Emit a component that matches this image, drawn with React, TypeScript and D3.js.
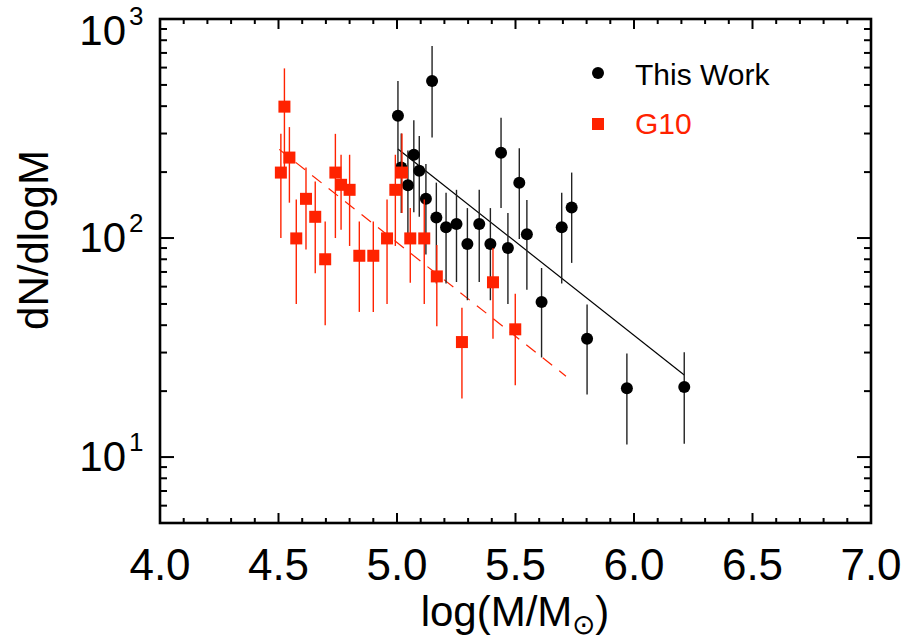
import React from "react";
import * as d3 from "d3";

// ---- Data ----
const thisWorkX = [5.004, 5.018, 5.046, 5.071, 5.094, 5.122, 5.148, 5.166, 5.207, 5.251, 5.297, 5.347, 5.394, 5.439, 5.468, 5.516, 5.548, 5.61, 5.695, 5.737, 5.802, 5.97, 6.212];
const thisWorkY = [362, 210, 174, 240, 203, 151, 521, 124, 112, 116, 94, 116, 94, 245, 90, 179, 104, 51, 112, 138, 34.7, 20.6, 20.9];
const thisWorkHi = [521, 300, 251, 345, 292, 218, 752, 179, 161, 166, 137, 166, 137, 354, 130, 257, 149, 73, 161, 199, 49.7, 29.7, 30.1];
const thisWorkLo = [203, 130, 100, 131, 125, 84, 288, 62, 62, 63, 52, 63, 52, 137, 50, 99, 58, 28.5, 62, 77, 19.3, 11.4, 11.5];

const g10X = [4.51, 4.525, 4.546, 4.575, 4.616, 4.655, 4.697, 4.74, 4.764, 4.8, 4.841, 4.9, 4.958, 4.993, 5.021, 5.056, 5.115, 5.168, 5.274, 5.405, 5.499];
const g10Y = [199, 398, 233, 99.6, 151, 125, 80, 199, 175, 166, 83, 83, 99.6, 166, 199, 99.6, 99.6, 66.8, 33.5, 62.8, 38.3];
const g10Hi = [299, 595, 321, 150, 210, 181, 119, 299, 240, 240, 119, 119, 150, 240, 300, 137, 150, 93, 48, 90, 55.6];
const g10Lo = [100, 200, 145, 50, 88.6, 69, 40, 100, 109, 92, 46, 46, 50, 92, 130, 62.5, 50, 39.6, 18.5, 34.7, 21.3];

const fitThisWorkX = [5.004, 6.212];
const fitThisWorkY = [255, 23.7];
const fitG10X = [4.503, 5.713];
const fitG10Y = [254, 23.4];

const xTickValues = [4.0, 4.5, 5.0, 5.5, 6.0, 6.5, 7.0];
const yDecades = [1, 2, 3];
const legendLabels = ["This Work", "G10"];

const W = 907;
const H = 640;
const L = 160, R = 871, T = 19, B = 523;
const RED = "#ff2200";
const FONT = "'Liberation Sans', Arial, Helvetica, sans-serif";

export default function App() {
  const x = d3.scaleLinear().domain([4, 7]).range([L, R]);
  const y = d3.scaleLog().domain([5, 1000]).range([B, T]);

  const xMinor = d3.range(40, 71).map((v) => v / 10);
  const yMinor: number[] = [];
  [1, 10, 100].forEach((dec) => {
    for (let m = 1; m <= 9; m++) {
      const v = dec * m;
      if (v >= 5 && v <= 1000) yMinor.push(v);
    }
  });

  const line = d3.line<[number, number]>().x((d) => x(d[0])).y((d) => y(d[1]));
  const fitA: [number, number][] = fitThisWorkX.map((v, i) => [v, fitThisWorkY[i]]);
  const fitB: [number, number][] = fitG10X.map((v, i) => [v, fitG10Y[i]]);

  return (
    <svg width={W} height={H} style={{ position: "absolute", left: 0, top: 0, background: "#fff" }} fontFamily={FONT}>
      <rect x={0} y={0} width={W} height={H} fill="#fff" />

      {/* fit lines */}
      <path d={line(fitA) || ""} stroke="#000" strokeWidth={1.2} fill="none" />
      <path d={line(fitB) || ""} stroke={RED} strokeWidth={1.2} fill="none" strokeDasharray="12,9" />

      {/* This Work */}
      {thisWorkX.map((v, i) => (
        <line key={"te" + i} x1={x(v)} x2={x(v)} y1={y(thisWorkLo[i])} y2={y(thisWorkHi[i])} stroke="#222" strokeWidth={1.4} />
      ))}
      {thisWorkX.map((v, i) => (
        <circle key={"tp" + i} cx={x(v)} cy={y(thisWorkY[i])} r={6} fill="#000" />
      ))}

      {/* G10 */}
      {g10X.map((v, i) => (
        <line key={"ge" + i} x1={x(v)} x2={x(v)} y1={y(g10Lo[i])} y2={y(g10Hi[i])} stroke={RED} strokeWidth={1.4} />
      ))}
      {g10X.map((v, i) => (
        <rect key={"gp" + i} x={x(v) - 6} y={y(g10Y[i]) - 6} width={12} height={12} fill={RED} />
      ))}

      {/* frame */}
      <rect x={L} y={T} width={R - L} height={B - T} fill="none" stroke="#000" strokeWidth={2.6} />

      {/* x ticks */}
      {xMinor.map((v, i) => {
        const major = Math.abs(v * 2 - Math.round(v * 2)) < 1e-6;
        const len = major ? 10 : 5;
        return (
          <g key={"xt" + i}>
            <line x1={x(v)} x2={x(v)} y1={B} y2={B - len} stroke="#000" strokeWidth={2} />
            <line x1={x(v)} x2={x(v)} y1={T} y2={T + len} stroke="#000" strokeWidth={2} />
          </g>
        );
      })}
      {/* y ticks */}
      {yMinor.map((v, i) => {
        const major = yDecades.some((d) => Math.abs(v - Math.pow(10, d)) < 1e-6);
        const len = major ? 14 : 7;
        return (
          <g key={"yt" + i}>
            <line x1={L} x2={L + len} y1={y(v)} y2={y(v)} stroke="#000" strokeWidth={2} />
            <line x1={R} x2={R - len} y1={y(v)} y2={y(v)} stroke="#000" strokeWidth={2} />
          </g>
        );
      })}

      {/* x tick labels */}
      {xTickValues.map((v, i) => (
        <text key={"xl" + i} x={x(v)} y={580} textAnchor="middle" fontSize={44} fill="#000">
          {v.toFixed(1)}
        </text>
      ))}

      {/* y tick labels */}
      {yDecades.map((d, i) => {
        const base = Math.max(y(Math.pow(10, d)) + 14, 45);
        return (
          <g key={"yl" + i}>
            <text x={126} y={base} textAnchor="end" fontSize={42} fill="#000">10</text>
            <text x={129} y={base - 20} textAnchor="start" fontSize={26} fill="#000">{d}</text>
          </g>
        );
      })}

      {/* axis titles */}
      <text x={515} y={626} textAnchor="middle" fontSize={42} fill="#000">
        log(M/M<tspan fontSize={28} dy={8}>⊙</tspan><tspan dy={-8}>)</tspan>
      </text>
      <text transform={`translate(48, ${240}) rotate(-90)`} textAnchor="middle" fontSize={42} fill="#000">
        dN/dlogM
      </text>

      {/* legend */}
      <circle cx={598} cy={73} r={6} fill="#000" />
      <text x={635} y={85} fontSize={30} fill="#000">{legendLabels[0]}</text>
      <rect x={592} y={118} width={12} height={12} fill={RED} />
      <text x={635} y={134} fontSize={30} fill={RED}>{legendLabels[1]}</text>
    </svg>
  );
}
